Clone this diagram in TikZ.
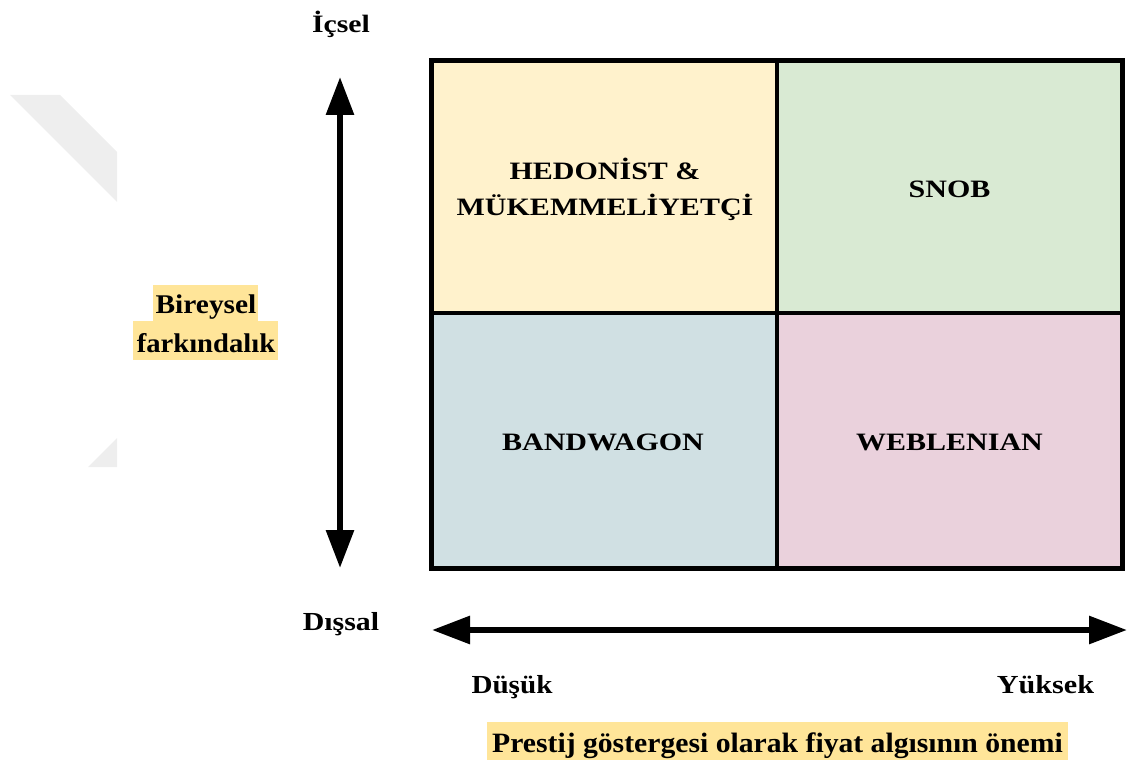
\documentclass[tikz,border=0pt]{standalone}
\usepackage{fontspec}
\usepackage{graphicx}
\setmainfont{Liberation Serif}
\usetikzlibrary{arrows.meta}
\definecolor{cTL}{HTML}{FFF2CC}
\definecolor{cTR}{HTML}{D9EAD3}
\definecolor{cBL}{HTML}{D0E0E3}
\definecolor{cBR}{HTML}{EAD1DC}
\definecolor{hl}{HTML}{FFE599}
\definecolor{wm}{HTML}{EEEEEE}
\newcommand\myxs[2]{\scalebox{#1}[1]{#2}}
\tikzset{
  txt/.style={anchor=base, inner sep=0pt, font=\bfseries\fontsize{26}{30}\selectfont},
  cell/.style={font=\bfseries\fontsize{25}{30}\selectfont, anchor=base, inner sep=0pt},
  axis/.style={line width=6pt, {Triangle[length=38pt,width=27pt]}-{Triangle[length=38pt,width=27pt]}},
  border/.style={line width=5pt},
}
\begin{document}
\begin{tikzpicture}[x=1pt,y=-1pt]
\useasboundingbox (0,0) rectangle (1129,762);
% watermark
\fill[wm] (10,95) -- (60,95) -- (117,152) -- (117,202) -- cycle;
\fill[wm] (88,467) -- (117,438) -- (117,467) -- cycle;
% cells
\fill[cTL] (431,61) rectangle (777,313);
\fill[cTR] (777,61) rectangle (1122,313);
\fill[cBL] (431,313) rectangle (777,568);
\fill[cBR] (777,313) rectangle (1122,568);
\draw[line width=4pt] (777,61) -- (777,568);
\draw[line width=4pt] (431,313) -- (1122,313);
\draw[border] (431,61) rectangle (1122,568);
% cell labels
\node[cell] (hed) at (605,179) {\myxs{1.2}{HEDONİST \&}};
\node[cell] (muk) at (605,215) {\myxs{1.2}{MÜKEMMELİYETÇİ}};
\node[cell] (snob) at (949.5,197) {\myxs{1.2}{SNOB}};
\node[cell] (band) at (603,450) {\myxs{1.2}{BANDWAGON}};
\node[cell] (web) at (949.5,450) {\myxs{1.2}{WEBLENIAN}};
% vertical axis
\node[txt, font=\bfseries\fontsize{25}{30}\selectfont] (icsel) at (341,33) {\myxs{1.19}{İçsel}};
\node[txt] (dissal) at (341,630) {\myxs{1.15}{Dışsal}};
\coordinate (vt) at (340,77);
\coordinate (vb) at (340,568);
\draw[axis] (vt) -- (vb);
% highlights
\fill[hl] (153,285) rectangle (258,321);
\fill[hl] (133,321) rectangle (278,360);
\node[txt, font=\bfseries\fontsize{27}{30}\selectfont] (bir) at (206,313) {\myxs{1.09}{Bireysel}};
\node[txt, font=\bfseries\fontsize{27}{30}\selectfont] (fark) at (206,352) {\myxs{1.06}{farkındalık}};
% horizontal axis
\coordinate (hl) at (432,630);
\coordinate (hr) at (1127,630);
\draw[axis] (hl) -- (hr);
\node[txt] (dusuk) at (512,693) {\myxs{1.12}{Düşük}};
\node[txt] (yuksek) at (1045.5,693) {\myxs{1.16}{Yüksek}};
\fill[hl] (487,722) rectangle (1068,760);
\node[txt, font=\bfseries\fontsize{28}{30}\selectfont] (prestij) at (777.5,752) {\myxs{1.06}{Prestij göstergesi olarak fiyat algısının önemi}};
\end{tikzpicture}
\end{document}
